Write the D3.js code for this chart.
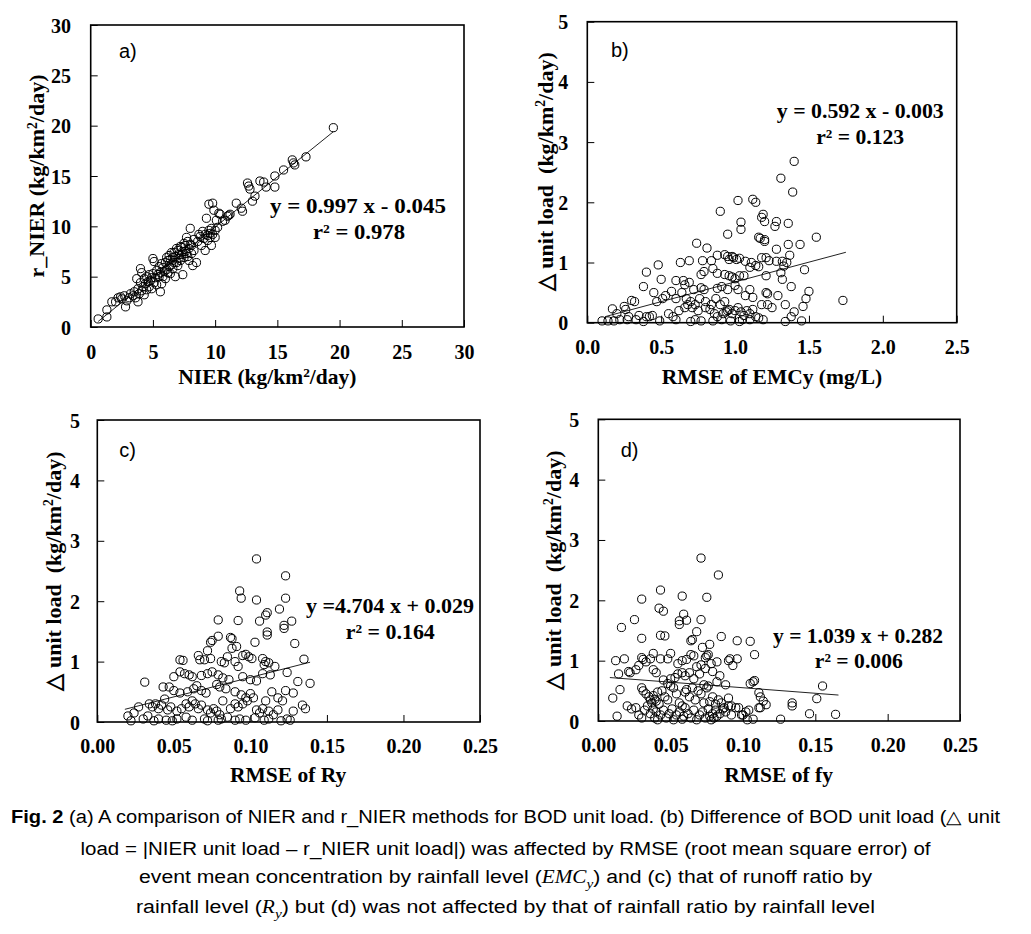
<!DOCTYPE html>
<html>
<head>
<meta charset="utf-8">
<script src="https://cdn.jsdelivr.net/npm/d3@7/dist/d3.min.js"></script>
<style>
  html, body { margin: 0; padding: 0; background: #fff; }
  svg { display: block; }
</style>
</head>
<body>
<svg id="chart" width="1031" height="934"></svg>
<script>
// ---------------- DATA ----------------
const panelLabels = ["a)", "b)", "c)", "d)"];
const xTitles = ["NIER (kg/km\u00B2/day)", "RMSE of EMCy (mg/L)", "RMSE of Ry", "RMSE of fy"];
const yTitles = ["r_NIER (kg/km\u00B2/day)", "\u25B3 unit load\u00A0 (kg/km\u00B2/day)", "\u25B3 unit load\u00A0 (kg/km\u00B2/day)", "\u25B3 unit load\u00A0 (kg/km\u00B2/day)"];
const equations = ["y = 0.997 x - 0.045", "y = 0.592 x - 0.003", "y =4.704 x + 0.029", "y = 1.039 x + 0.282"];
const rSquared = ["r\u00B2 = 0.978", "r\u00B2 = 0.123", "r\u00B2 = 0.164", "r\u00B2 = 0.006"];

const ticksA = [0, 5, 10, 15, 20, 25, 30];
const ticksB_x = [0, 0.5, 1.0, 1.5, 2.0, 2.5];
const ticksCD_x = [0, 0.05, 0.10, 0.15, 0.20, 0.25];
const ticksBCD_y = [0, 1, 2, 3, 4, 5];

const pointsA = [[0.6,0.8],[1.3,1.0],[1.3,1.7],[1.7,2.5],[2.0,2.5],[2.2,2.9],[2.4,3.0],[2.5,2.8],[2.7,3.1],[2.8,2.0],[2.9,2.6],[3.1,2.9],[3.2,3.3],[3.4,3.1],[3.5,3.5],[3.6,2.9],[3.7,4.8],[3.8,2.5],[3.8,3.8],[3.9,3.3],[4.0,5.8],[4.0,4.4],[4.1,5.4],[4.1,3.6],[4.2,4.0],[4.3,4.8],[4.3,3.2],[4.4,4.3],[4.5,5.0],[4.5,3.7],[4.6,4.5],[4.7,4.0],[4.7,5.2],[4.8,4.6],[4.9,3.8],[4.9,4.9],[5.0,6.8],[5.0,5.3],[5.1,6.5],[5.1,4.4],[5.2,4.9],[5.3,5.6],[5.3,4.2],[5.4,5.2],[5.5,5.0],[5.5,6.0],[5.6,3.5],[5.6,5.4],[5.7,4.3],[5.7,6.3],[5.8,5.9],[5.8,5.0],[5.9,5.5],[6.0,6.4],[6.0,4.8],[6.1,5.7],[6.1,6.9],[6.2,6.6],[6.2,5.4],[6.3,7.1],[6.3,6.0],[6.4,5.3],[6.4,6.7],[6.5,6.2],[6.5,7.4],[6.6,6.9],[6.6,5.8],[6.7,7.4],[6.7,6.4],[6.8,5.0],[6.8,7.0],[6.9,6.4],[6.9,7.8],[7.0,7.6],[7.0,6.1],[7.1,6.8],[7.1,7.2],[7.2,8.0],[7.2,6.6],[7.3,7.2],[7.3,7.9],[7.4,5.2],[7.4,7.5],[7.5,8.3],[7.5,6.9],[7.6,7.5],[7.6,8.1],[7.7,8.9],[7.7,7.3],[7.8,7.0],[7.8,8.5],[7.9,6.6],[7.9,7.8],[8.0,9.8],[8.0,8.2],[8.1,8.1],[8.1,7.3],[8.2,6.1],[8.3,7.6],[8.3,8.7],[8.5,6.4],[8.6,8.5],[8.7,9.2],[8.8,9.0],[8.9,8.1],[9.0,9.5],[9.1,8.8],[9.2,7.6],[9.2,9.2],[9.3,10.8],[9.4,9.1],[9.4,8.6],[9.5,12.2],[9.5,9.6],[9.6,9.3],[9.6,8.9],[9.7,8.1],[9.7,9.8],[9.8,12.3],[9.8,9.2],[9.9,11.6],[10.0,8.9],[10.0,9.6],[10.1,10.6],[10.2,9.9],[10.3,11.3],[10.4,11.2],[10.6,10.5],[10.8,10.6],[11.0,11.0],[11.1,11.1],[11.2,11.2],[11.7,12.3],[12.1,11.8],[12.2,11.5],[12.6,14.3],[12.7,14.0],[12.8,13.7],[13.0,12.5],[13.2,13.0],[13.6,14.5],[13.9,14.4],[14.1,13.9],[14.8,13.9],[14.8,15.0],[15.5,15.6],[16.2,16.6],[16.3,16.3],[16.4,16.1],[17.3,16.9],[19.5,19.8]];

const pointsB = [[1.40,2.68],[1.31,2.40],[1.39,2.17],[1.12,2.05],[1.14,2.00],[1.02,2.03],[0.90,1.85],[1.19,1.80],[1.18,1.75],[1.20,1.68],[1.28,1.68],[1.27,1.60],[1.36,1.65],[1.04,1.67],[1.04,1.55],[0.95,1.47],[1.16,1.42],[1.17,1.40],[1.20,1.38],[1.20,1.35],[1.55,1.42],[1.44,1.30],[1.36,1.30],[0.74,1.32],[0.81,1.24],[1.28,1.22],[1.37,1.12],[0.69,1.03],[0.63,1.00],[0.78,1.03],[0.84,1.03],[0.88,1.12],[0.93,1.13],[0.95,1.10],[0.96,1.05],[0.98,1.10],[0.99,1.08],[1.01,1.05],[1.03,1.07],[1.07,1.02],[1.10,0.92],[1.11,1.00],[1.14,0.95],[1.16,0.93],[1.18,1.08],[1.21,1.08],[1.23,1.03],[1.28,1.02],[1.32,1.02],[1.35,1.00],[1.33,0.94],[1.47,0.88],[0.48,0.96],[0.40,0.84],[0.50,0.72],[0.38,0.60],[0.60,0.70],[0.65,0.70],[0.66,0.63],[0.69,0.67],[0.77,0.80],[0.79,0.85],[0.85,0.90],[0.88,0.82],[0.93,0.80],[0.96,0.78],[0.98,0.76],[1.00,0.73],[1.03,0.78],[1.06,0.78],[1.31,0.83],[1.32,0.72],[1.21,0.78],[1.38,0.60],[0.72,0.55],[0.77,0.58],[0.79,0.55],[0.88,0.57],[0.91,0.60],[0.95,0.55],[1.00,0.62],[1.02,0.55],[1.10,0.55],[1.21,0.50],[1.22,0.48],[1.29,0.45],[1.50,0.52],[1.48,0.40],[1.73,0.37],[1.46,0.27],[1.40,0.18],[1.34,0.30],[1.25,0.25],[1.18,0.30],[1.12,0.42],[1.07,0.45],[0.45,0.50],[0.47,0.35],[0.51,0.40],[0.53,0.45],[0.57,0.52],[0.60,0.40],[0.64,0.50],[0.67,0.40],[0.70,0.35],[0.73,0.30],[0.76,0.40],[0.80,0.35],[0.84,0.30],[0.87,0.40],[0.90,0.30],[0.93,0.35],[0.95,0.20],[0.92,0.15],[0.94,0.18],[0.96,0.22],[0.98,0.15],[1.00,0.20],[1.02,0.25],[1.04,0.18],[1.06,0.12],[1.08,0.20],[1.10,0.15],[1.12,0.22],[1.14,0.10],[1.16,0.08],[1.19,0.05],[1.22,0.30],[0.30,0.37],[0.32,0.35],[0.25,0.27],[0.26,0.22],[0.17,0.23],[0.20,0.15],[0.28,0.10],[0.35,0.12],[0.40,0.10],[0.42,0.10],[0.44,0.12],[0.10,0.03],[0.14,0.03],[0.22,0.05],[0.27,0.05],[0.33,0.05],[0.38,0.02],[0.49,0.03],[0.70,0.02],[0.73,0.05],[0.77,0.03],[0.85,0.03],[0.91,0.05],[0.97,0.03],[1.03,0.02],[1.05,0.05],[1.10,0.05],[1.34,0.02],[1.45,0.03],[1.38,0.10],[0.55,0.15],[0.58,0.10],[0.62,0.20],[0.66,0.25],[0.68,0.30],[0.71,0.25],[0.75,0.20],[0.80,0.25],[0.83,0.22],[0.86,0.15],[0.88,0.10],[0.60,0.05],[0.18,0.03]];

const pointsC = [[0.104,2.70],[0.123,2.42],[0.093,2.17],[0.094,2.05],[0.104,2.02],[0.123,2.05],[0.119,1.87],[0.111,1.81],[0.110,1.77],[0.106,1.67],[0.122,1.60],[0.122,1.55],[0.127,1.67],[0.079,1.69],[0.092,1.68],[0.111,1.49],[0.111,1.44],[0.129,1.30],[0.103,1.32],[0.079,1.42],[0.087,1.40],[0.088,1.38],[0.075,1.35],[0.074,1.32],[0.091,1.25],[0.088,1.22],[0.072,1.18],[0.135,1.04],[0.054,1.03],[0.056,1.02],[0.066,1.10],[0.067,1.03],[0.070,1.03],[0.074,1.05],[0.081,1.00],[0.083,0.98],[0.085,1.08],[0.090,1.00],[0.092,0.92],[0.095,1.10],[0.097,1.12],[0.099,1.08],[0.101,1.05],[0.108,1.05],[0.110,1.00],[0.112,0.98],[0.109,0.95],[0.116,0.92],[0.124,0.82],[0.131,0.67],[0.139,0.64],[0.050,0.75],[0.054,0.83],[0.057,0.80],[0.060,0.78],[0.062,0.75],[0.068,0.77],[0.072,0.80],[0.075,0.83],[0.079,0.78],[0.082,0.73],[0.086,0.70],[0.095,0.75],[0.100,0.70],[0.104,0.68],[0.108,0.80],[0.113,0.78],[0.031,0.66],[0.043,0.58],[0.047,0.58],[0.050,0.52],[0.054,0.48],[0.059,0.50],[0.063,0.55],[0.065,0.60],[0.068,0.52],[0.071,0.48],[0.078,0.62],[0.080,0.58],[0.084,0.55],[0.090,0.50],[0.094,0.45],[0.097,0.40],[0.100,0.47],[0.102,0.40],[0.110,0.35],[0.114,0.50],[0.118,0.40],[0.121,0.35],[0.123,0.52],[0.128,0.48],[0.034,0.30],[0.036,0.25],[0.038,0.30],[0.040,0.22],[0.042,0.28],[0.044,0.38],[0.046,0.20],[0.048,0.25],[0.052,0.18],[0.055,0.22],[0.058,0.30],[0.060,0.25],[0.062,0.35],[0.064,0.30],[0.066,0.22],[0.068,0.28],[0.072,0.20],[0.074,0.15],[0.076,0.22],[0.078,0.18],[0.080,0.12],[0.082,0.35],[0.087,0.22],[0.090,0.30],[0.092,0.25],[0.095,0.30],[0.098,0.35],[0.104,0.20],[0.106,0.15],[0.108,0.22],[0.112,0.18],[0.115,0.12],[0.118,0.20],[0.124,0.05],[0.126,0.03],[0.128,0.18],[0.134,0.28],[0.136,0.22],[0.020,0.10],[0.022,0.02],[0.030,0.05],[0.033,0.10],[0.037,0.02],[0.040,0.05],[0.045,0.03],[0.049,0.02],[0.052,0.05],[0.058,0.08],[0.062,0.03],[0.070,0.05],[0.072,0.02],[0.079,0.03],[0.081,0.05],[0.085,0.08],[0.090,0.03],[0.093,0.05],[0.097,0.03],[0.103,0.07],[0.109,0.03],[0.112,0.05],[0.120,0.02],[0.027,0.25],[0.024,0.15]];

const pointsD = [[0.071,2.70],[0.083,2.42],[0.043,2.17],[0.030,2.02],[0.058,2.07],[0.075,2.05],[0.042,1.87],[0.045,1.82],[0.016,1.55],[0.025,1.68],[0.059,1.77],[0.056,1.66],[0.056,1.60],[0.061,1.67],[0.071,1.68],[0.043,1.42],[0.046,1.41],[0.030,1.37],[0.068,1.48],[0.064,1.33],[0.065,1.35],[0.085,1.40],[0.096,1.33],[0.105,1.32],[0.108,1.10],[0.072,1.22],[0.077,1.27],[0.075,1.08],[0.074,1.05],[0.076,1.10],[0.012,1.00],[0.018,1.03],[0.030,1.05],[0.031,1.02],[0.036,1.03],[0.038,1.12],[0.043,1.03],[0.048,1.03],[0.050,1.12],[0.055,0.95],[0.058,1.00],[0.061,1.02],[0.064,1.10],[0.066,1.08],[0.068,0.90],[0.071,0.93],[0.074,0.87],[0.078,0.95],[0.082,0.98],[0.090,1.00],[0.091,1.03],[0.093,0.92],[0.096,1.03],[0.084,0.75],[0.088,0.60],[0.105,0.62],[0.107,0.65],[0.108,0.67],[0.111,0.47],[0.112,0.40],[0.114,0.33],[0.116,0.27],[0.111,0.22],[0.134,0.30],[0.134,0.25],[0.126,0.03],[0.146,0.12],[0.151,0.37],[0.155,0.58],[0.164,0.11],[0.103,0.02],[0.099,0.10],[0.107,0.03],[0.014,0.78],[0.021,0.82],[0.022,0.80],[0.026,0.85],[0.028,0.92],[0.033,0.98],[0.038,0.85],[0.040,0.80],[0.045,0.68],[0.048,0.62],[0.050,0.70],[0.053,0.72],[0.055,0.78],[0.058,0.80],[0.060,0.75],[0.063,0.80],[0.066,0.70],[0.070,0.78],[0.073,0.60],[0.076,0.58],[0.079,0.82],[0.082,0.65],[0.010,0.38],[0.015,0.52],[0.030,0.55],[0.031,0.50],[0.033,0.45],[0.035,0.40],[0.036,0.35],[0.037,0.30],[0.038,0.42],[0.039,0.36],[0.040,0.33],[0.041,0.48],[0.042,0.28],[0.044,0.50],[0.046,0.40],[0.048,0.35],[0.050,0.58],[0.052,0.55],[0.054,0.45],[0.056,0.30],[0.058,0.25],[0.060,0.48],[0.061,0.52],[0.063,0.40],[0.065,0.55],[0.067,0.35],[0.069,0.50],[0.071,0.45],[0.073,0.30],[0.075,0.55],[0.077,0.32],[0.079,0.40],[0.081,0.28],[0.083,0.35],[0.085,0.30],[0.087,0.22],[0.090,0.38],[0.092,0.25],[0.095,0.22],[0.013,0.08],[0.020,0.25],[0.023,0.20],[0.026,0.22],[0.028,0.10],[0.030,0.05],[0.032,0.18],[0.034,0.25],[0.036,0.12],[0.038,0.20],[0.039,0.05],[0.040,0.15],[0.041,0.02],[0.043,0.10],[0.045,0.18],[0.047,0.05],[0.049,0.12],[0.051,0.20],[0.052,0.02],[0.054,0.10],[0.056,0.15],[0.058,0.03],[0.059,0.08],[0.060,0.22],[0.062,0.12],[0.064,0.05],[0.066,0.18],[0.068,0.02],[0.070,0.10],[0.072,0.15],[0.074,0.05],[0.076,0.20],[0.077,0.08],[0.078,0.02],[0.079,0.12],[0.080,0.05],[0.081,0.18],[0.082,0.08],[0.084,0.12],[0.086,0.20],[0.088,0.15],[0.090,0.25],[0.092,0.10],[0.097,0.22],[0.100,0.10],[0.102,0.15],[0.104,0.18],[0.112,0.22]];

// fitted-line end points as drawn in the figure
const fitA = [[0.6, 0.55], [19.5, 19.4]];
const fitB = [[0.12, 0.10], [1.75, 1.17]];
const fitC = [[0.018, 0.21], [0.139, 0.99]];
const fitD = [[0.008, 0.72], [0.166, 0.43]];

// ---------------- LAYOUT ----------------
const serif = "'Times New Roman', 'Liberation Serif', serif";
const sans = "'Liberation Sans', Arial, sans-serif";

const panels = [
  { pts: pointsA, fit: fitA, xDom: [0, 30], yDom: [0, 30], xTicks: ticksA, yTicks: ticksA, xFmt: d3.format("d"), yFmt: d3.format("d"),
    l: 90.7, r: 464, t: 25, b: 327, xLabY: 31.5, yLabPad: 19.7, xTitleY: 384, yTitle: [36.7, 176],
    tag: [119, 58], eq: [358, 213, 176], r2: [359, 239, 92] },
  { pts: pointsB, fit: fitB, xDom: [0, 2.5], yDom: [0, 5], xTicks: ticksB_x, yTicks: ticksBCD_y, xFmt: d3.format(".1f"), yFmt: d3.format("d"),
    l: 587.3, r: 956.7, t: 21.7, b: 322.7, xLabY: 31.3, yLabPad: 19, xTitleY: 384, yTitle: [545, 171.7],
    tag: [611, 57], eq: [860.3, 118.3, 167], r2: [860.2, 144, 88] },
  { pts: pointsC, fit: fitC, xDom: [0, 0.25], yDom: [0, 5], xTicks: ticksCD_x, yTicks: ticksBCD_y, xFmt: d3.format(".2f"), yFmt: d3.format("d"),
    l: 97.3, r: 480, t: 420, b: 722, xLabY: 30.5, yLabPad: 17.3, xTitleY: 782, yTitle: [53.3, 571],
    tag: [119.3, 456.7], eq: [390, 613.3, 168], r2: [390.3, 639.3, 89] },
  { pts: pointsD, fit: fitD, xDom: [0, 0.25], yDom: [0, 5], xTicks: ticksCD_x, yTicks: ticksBCD_y, xFmt: d3.format(".2f"), yFmt: d3.format("d"),
    l: 598.3, r: 960, t: 419.3, b: 721, xLabY: 31.2, yLabPad: 19, xTitleY: 782, yTitle: [553.3, 570],
    tag: [620.7, 456.7], eq: [858, 642.7, 170], r2: [858.8, 668.3, 88] }
];

const svg = d3.select("#chart");
svg.append("rect").attr("width", 1031).attr("height", 934).attr("fill", "#fff");

function superscriptTitle(sel, str, fs) {
  // render "²" as a raised small 2; the shift is undone on the following text
  const parts = str.split("\u00B2");
  const sup = fs * 0.62, rise = fs * 0.34;
  parts.forEach((p, i) => {
    const t = sel.append("tspan").text(p);
    if (i > 0) t.attr("dy", rise);
    if (i < parts.length - 1) {
      sel.append("tspan").attr("font-size", sup).attr("dy", -rise).text("2");
    }
  });
}

panels.forEach((p, i) => {
  const x = d3.scaleLinear().domain(p.xDom).range([p.l, p.r]);
  const y = d3.scaleLinear().domain(p.yDom).range([p.b, p.t]);
  const g = svg.append("g");

  // x axis (inward ticks)
  const gx = g.append("g").attr("transform", `translate(0,${p.b})`)
    .call(d3.axisBottom(x).tickValues(p.xTicks).tickFormat(p.xFmt).tickSize(-7).tickPadding(0));
  gx.select(".domain").remove();
  gx.selectAll("line").attr("stroke", "#000").attr("stroke-width", 1);
  gx.selectAll("text").attr("y", p.xLabY).attr("dy", 0)
    .attr("font-family", serif).attr("font-weight", "bold").attr("font-size", 20).attr("fill", "#000");

  // y axis (inward ticks)
  const gy = g.append("g").attr("transform", `translate(${p.l},0)`)
    .call(d3.axisLeft(y).tickValues(p.yTicks).tickFormat(p.yFmt).tickSize(-7).tickPadding(p.yLabPad));
  gy.select(".domain").remove();
  gy.selectAll("line").attr("stroke", "#000").attr("stroke-width", 1);
  gy.selectAll("text").attr("dy", "0.35em")
    .attr("font-family", serif).attr("font-weight", "bold").attr("font-size", 20).attr("fill", "#000");

  // frame
  g.append("rect").attr("x", p.l).attr("y", p.t).attr("width", p.r - p.l).attr("height", p.b - p.t)
    .attr("fill", "none").attr("stroke", "#000").attr("stroke-width", 1.6);

  // regression line
  g.append("path").datum(p.fit)
    .attr("d", d3.line().x(d => x(d[0])).y(d => y(d[1])))
    .attr("fill", "none").attr("stroke", "#222").attr("stroke-width", 1);

  // points
  g.append("g").selectAll("circle").data(p.pts).join("circle")
    .attr("cx", d => x(d[0])).attr("cy", d => y(d[1])).attr("r", 4.1)
    .attr("fill", "none").attr("stroke", "#000").attr("stroke-width", 1);

  // panel tag
  g.append("text").attr("x", p.tag[0]).attr("y", p.tag[1])
    .attr("font-family", sans).attr("font-size", 20).attr("fill", "#000").text(panelLabels[i]);

  // equation & r²
  g.append("text").attr("x", p.eq[0]).attr("y", p.eq[1]).attr("text-anchor", "middle")
    .attr("font-family", serif).attr("font-weight", "bold").attr("font-size", 22)
    .attr("textLength", p.eq[2]).attr("lengthAdjust", "spacingAndGlyphs").text(equations[i]);
  g.append("text").attr("x", p.r2[0]).attr("y", p.r2[1]).attr("text-anchor", "middle")
    .attr("font-family", serif).attr("font-weight", "bold").attr("font-size", 22)
    .attr("textLength", p.r2[2]).attr("lengthAdjust", "spacingAndGlyphs").text(rSquared[i]);

  // x title
  const xt = g.append("text").attr("x", (p.l + p.r) / 2 + (i === 0 ? -10 : (i === 1 ? 0 : -0.5)))
    .attr("y", p.xTitleY).attr("text-anchor", "middle")
    .attr("font-family", serif).attr("font-weight", "bold").attr("font-size", 21.5).attr("fill", "#000");
  superscriptTitle(xt, xTitles[i], 21.5);

  // y title
  const yt = g.append("text")
    .attr("transform", `translate(${p.yTitle[0] + 7.5},${p.yTitle[1]}) rotate(-90)`)
    .attr("text-anchor", "middle")
    .attr("font-family", serif).attr("font-weight", "bold").attr("font-size", 22).attr("fill", "#000");
  superscriptTitle(yt, yTitles[i], 22);
});

// ---------------- CAPTION ----------------
const capCx = 505.5;
const cap = svg.append("g").attr("font-family", sans).attr("font-size", 18).attr("fill", "#000");

const l1 = cap.append("text").attr("x", capCx).attr("y", 823.3).attr("text-anchor", "middle")
  .attr("textLength", 989).attr("lengthAdjust", "spacingAndGlyphs");
l1.append("tspan").attr("font-weight", "bold").text("Fig. 2");
l1.append("tspan").text(" (a) A comparison of NIER and r_NIER methods for BOD unit load. (b) Difference of BOD unit load (\u25B3 unit");

cap.append("text").attr("x", capCx).attr("y", 855).attr("text-anchor", "middle")
  .attr("textLength", 850).attr("lengthAdjust", "spacingAndGlyphs")
  .text("load = |NIER unit load \u2013 r_NIER unit load|) was affected by RMSE (root mean square error) of");

const l3 = cap.append("text").attr("x", capCx).attr("y", 883.3).attr("text-anchor", "middle")
  .attr("textLength", 733).attr("lengthAdjust", "spacingAndGlyphs");
l3.append("tspan").text("event mean concentration by rainfall level (");
l3.append("tspan").attr("font-family", serif).attr("font-style", "italic").text("EMC");
l3.append("tspan").attr("font-family", serif).attr("font-style", "italic").attr("font-size", 13).attr("dy", 5).text("y");
l3.append("tspan").attr("dy", -5).text(") and (c) that of runoff ratio by");

const l4 = cap.append("text").attr("x", capCx).attr("y", 913.3).attr("text-anchor", "middle")
  .attr("textLength", 739).attr("lengthAdjust", "spacingAndGlyphs");
l4.append("tspan").text("rainfall level (");
l4.append("tspan").attr("font-family", serif).attr("font-style", "italic").text("R");
l4.append("tspan").attr("font-family", serif).attr("font-style", "italic").attr("font-size", 13).attr("dy", 5).text("y");
l4.append("tspan").attr("dy", -5).text(") but (d) was not affected by that of rainfall ratio by rainfall level");
</script>
</body>
</html>
